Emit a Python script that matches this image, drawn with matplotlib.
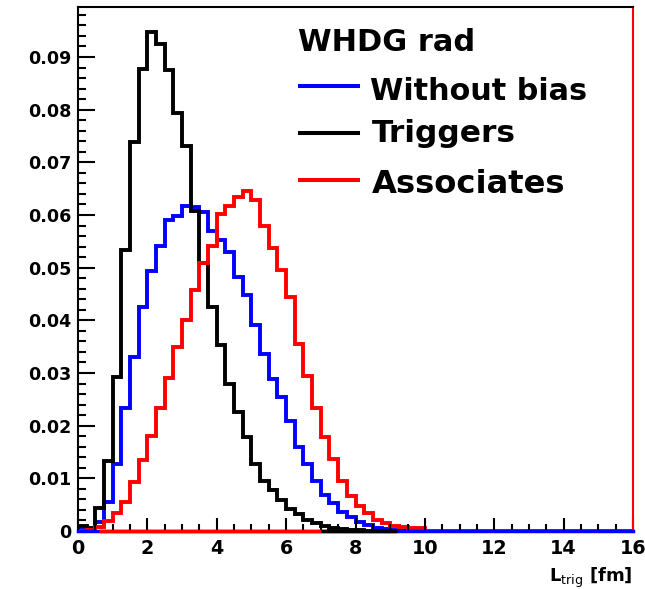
import numpy as np
import matplotlib
matplotlib.use("Agg")
import matplotlib.pyplot as plt
from matplotlib.lines import Line2D

plt.rcParams['font.family'] = ['DejaVu Sans']
plt.rcParams['mathtext.fontset'] = 'dejavusans'

# bin edges: 64 bins of 0.25 fm from 0 to 16
bin_lo, bin_hi, n_bins = 0.0, 16.0, 64
edges = np.linspace(bin_lo, bin_hi, n_bins + 1)

def pad(vals):
    return np.array(vals + [0.0] * (n_bins - len(vals)))

without_bias = pad([0.0002, 0.0003, 0.0017, 0.0056, 0.0128, 0.0233, 0.0330, 0.0426,
                    0.0494, 0.0541, 0.0590, 0.0598, 0.0618, 0.0616, 0.0606, 0.0570,
                    0.0553, 0.0530, 0.0482, 0.0448, 0.0391, 0.0337, 0.0289, 0.0255,
                    0.0208, 0.0160, 0.0128, 0.0094, 0.0068, 0.0053, 0.0037, 0.0026,
                    0.0017, 0.0011, 0.0006, 0.0003, 0.0001])
triggers = pad([0.0010, 0.0006, 0.0044, 0.0133, 0.0293, 0.0533, 0.0739, 0.0878,
                0.0947, 0.0925, 0.0875, 0.0793, 0.0732, 0.0608, 0.0508, 0.0426,
                0.0353, 0.0280, 0.0226, 0.0179, 0.0128, 0.0094, 0.0077, 0.0058,
                0.0042, 0.0033, 0.0021, 0.0015, 0.0009, 0.0006, 0.0004, 0.0002,
                0.0001])
associates = pad([0.0, 0.0002, 0.0007, 0.0019, 0.0034, 0.0055, 0.0093, 0.0135,
                  0.0181, 0.0233, 0.0291, 0.0349, 0.0401, 0.0457, 0.0508, 0.0542,
                  0.0602, 0.0617, 0.0634, 0.0645, 0.0629, 0.0579, 0.0537, 0.0495,
                  0.0444, 0.0356, 0.0295, 0.0233, 0.0179, 0.0137, 0.0094, 0.0067,
                  0.0048, 0.0034, 0.0021, 0.0015, 0.0009, 0.0007, 0.0006, 0.0005])

series_names = ["Without bias", "Triggers", "Associates"]
series_colors = ["#0000ff", "#000000", "#ff0000"]
legend_title = "WHDG rad"
x_ticks = [0, 2, 4, 6, 8, 10, 12, 14, 16]
y_ticks = [0, 0.01, 0.02, 0.03, 0.04, 0.05, 0.06, 0.07, 0.08, 0.09]
y_tick_labels = ["0", "0.01", "0.02", "0.03", "0.04", "0.05", "0.06", "0.07", "0.08", "0.09"]
y_max = 0.0995

W, H = 645, 589
fig = plt.figure(figsize=(W / 100, H / 100), dpi=100)
L, R, T, B = 78, 633, 7, 531
ax = fig.add_axes([L / W, 1 - B / H, (R - L) / W, (B - T) / H])

lw = 2.8
for vals, col in zip([without_bias, triggers, associates], series_colors):
    ax.stairs(vals, edges, baseline=0, color=col, linewidth=lw, fill=False)

ax.set_xlim(bin_lo, bin_hi)
ax.set_ylim(0, y_max)

ax.set_xticks(x_ticks)
ax.set_xticks(np.arange(0, 16.01, 0.5), minor=True)
ax.set_yticks(y_ticks)
ax.set_yticklabels(y_tick_labels)
ax.set_yticks(np.arange(0, 0.0995, 0.002), minor=True)

ax.tick_params(axis='both', which='both', direction='in', width=1.5, top=False, right=False)
ax.tick_params(axis='y', which='major', length=12, pad=4.5, labelsize=12.6)
ax.tick_params(axis='y', which='minor', length=6)
ax.tick_params(axis='x', which='major', length=9.5, pad=6, labelsize=13.8)
ax.tick_params(axis='x', which='minor', length=5)
for lab in ax.get_xticklabels() + ax.get_yticklabels():
    lab.set_fontweight('bold')

for side in ['left', 'top']:
    ax.spines[side].set_color('black')
    ax.spines[side].set_linewidth(1.5)
ax.spines['right'].set_color('#ff0000')
ax.spines['right'].set_linewidth(1.5)
ax.spines['bottom'].set_color('#0000ff')
ax.spines['bottom'].set_linewidth(2.5)

# coloured frame segments along the bottom (as drawn in the original frame)
frame_segments = [(0.6, 7.0, '#ff0000'), (7.0, 9.2, '#000000')]
for x0, x1, c in frame_segments:
    ax.plot([x0, x1], [0, 0], color=c, linewidth=2.5, clip_on=False,
            solid_capstyle='butt', zorder=5)

# legend drawn manually (ROOT style)
def fx(px):
    return (px - L) / (R - L)

def fy(py):
    return (B - py) / (B - T)

ax.text(fx(298), fy(51), legend_title, transform=ax.transAxes, fontsize=22,
        fontweight='bold', va='baseline', ha='left')
leg_line_y = [86, 133, 180]
leg_text_y = [100, 142, 193]
leg_text_x = [370, 372, 372]
leg_sizes = [21.8, 22.5, 23.2]
for name, col, ly, ty, tx, fs in zip(series_names, series_colors, leg_line_y,
                                     leg_text_y, leg_text_x, leg_sizes):
    ax.add_line(Line2D([fx(300), fx(358)], [fy(ly), fy(ly)], transform=ax.transAxes,
                       color=col, linewidth=2.9))
    ax.text(fx(tx), fy(ty), name, transform=ax.transAxes, fontsize=fs,
            fontweight='bold', va='baseline', ha='left')

fig.text(632 / W, 1 - 582 / H, r"$\mathbf{L}_{\mathrm{trig}}$ [fm]", fontsize=13,
         fontweight='bold', ha='right', va='baseline')

fig.savefig("out.png", dpi=100)
